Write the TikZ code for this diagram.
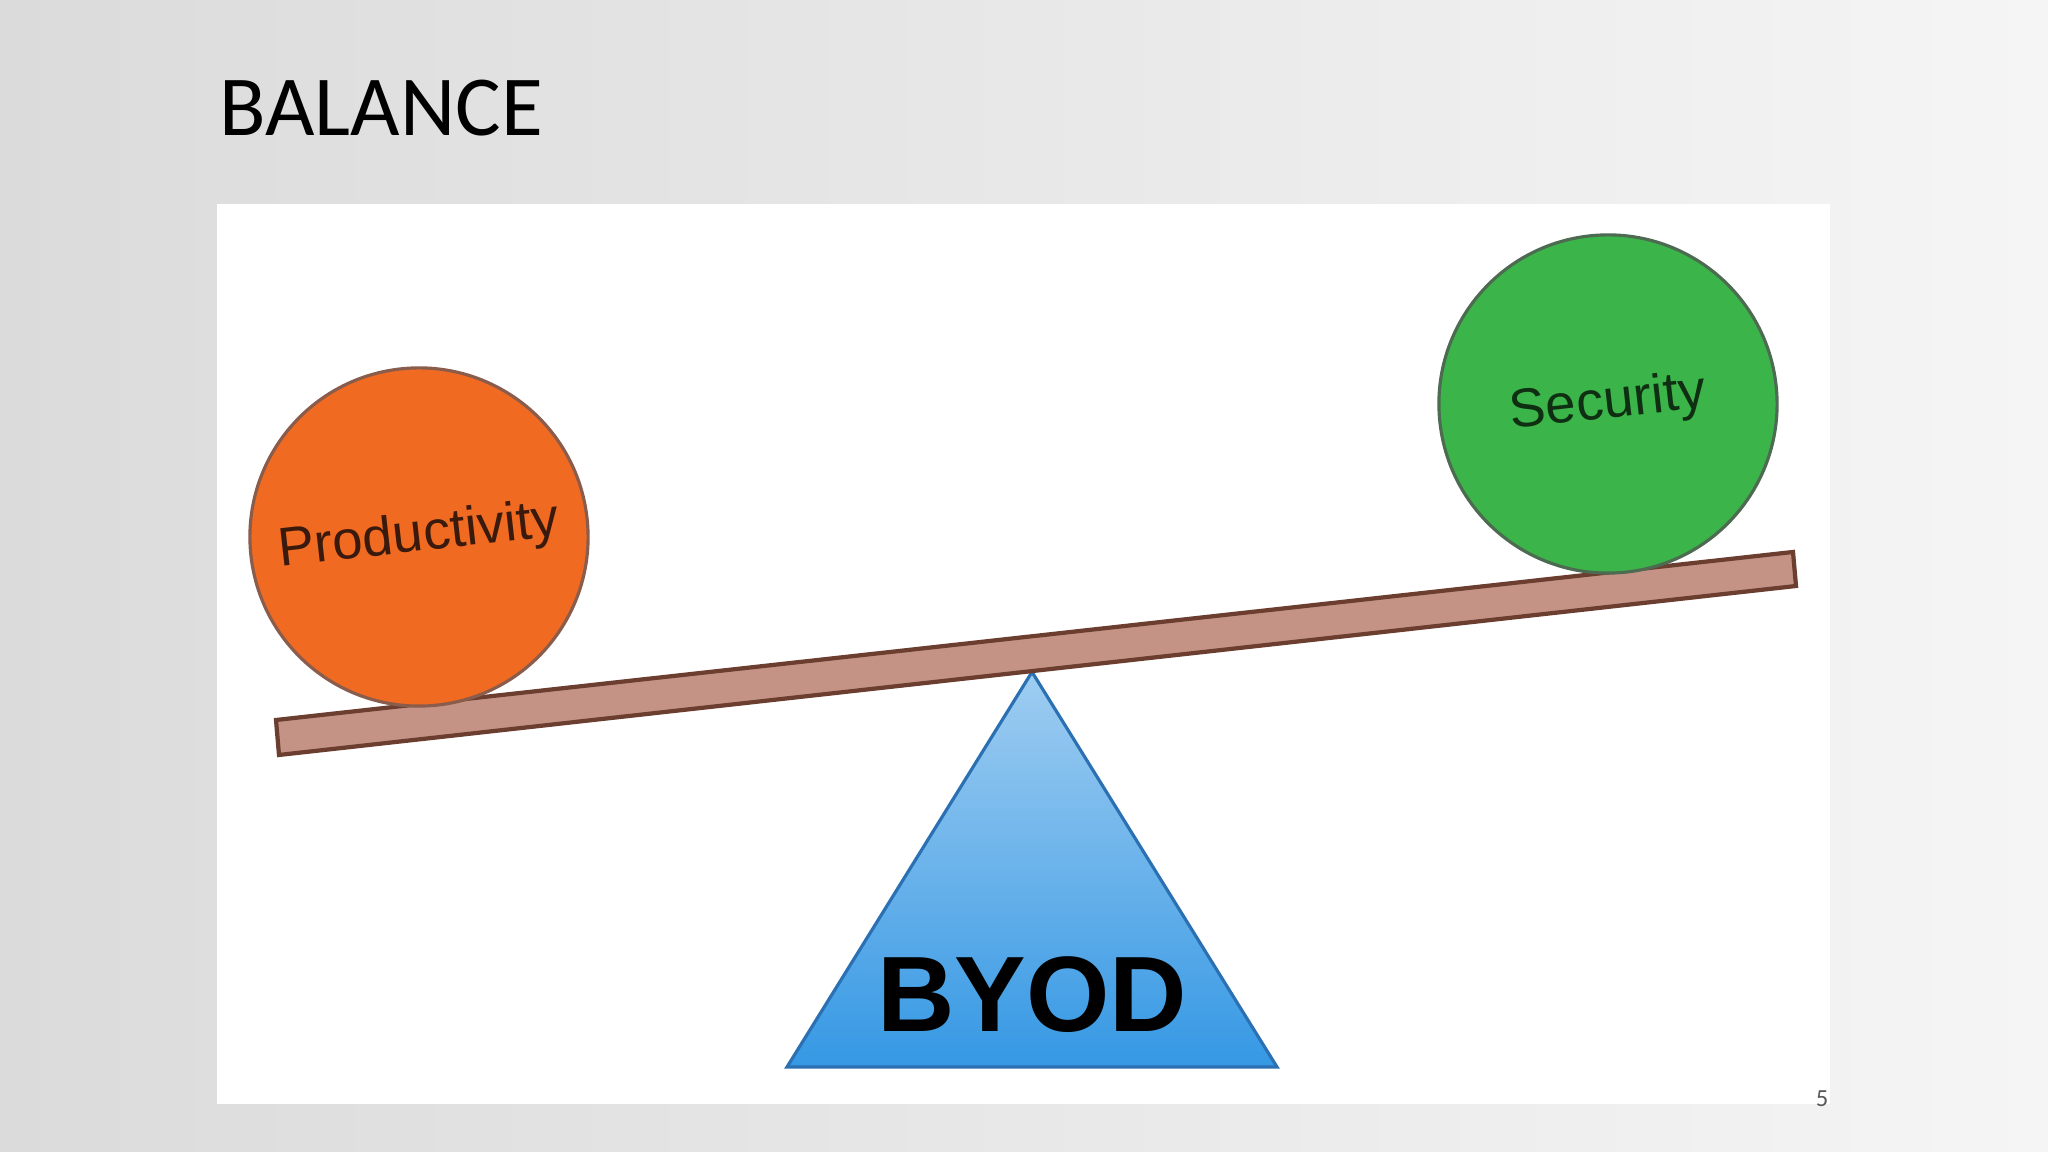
\documentclass[tikz,border=0pt]{standalone}
\usepackage{fontspec}
\setmainfont{Carlito}
\newfontfamily\arialfont{Liberation Sans}
\definecolor{bgleft}{HTML}{DBDBDB}
\definecolor{bgright}{HTML}{F5F5F5}
\definecolor{prodfill}{HTML}{F06A22}
\definecolor{prodline}{HTML}{8A5C4C}
\definecolor{prodtext}{HTML}{3A1A0C}
\definecolor{secfill}{HTML}{3BB54A}
\definecolor{secline}{HTML}{4D6B50}
\definecolor{sectext}{HTML}{0F2F12}
\definecolor{beamfill}{HTML}{C49385}
\definecolor{beamline}{HTML}{6B3E30}
\definecolor{fulcrumtop}{HTML}{9FCDF1}
\definecolor{fulcrumbot}{HTML}{3598E4}
\definecolor{fulcrumline}{HTML}{2A70B2}

\begin{document}
\begin{tikzpicture}[x=0.01cm, y=0.01cm,
  ball/.style={circle, minimum size=3.38cm, inner sep=0pt, line width=0.9pt,
    font=\arialfont\fontsize{15.5}{18}\selectfont, rotate=6.4}]
\useasboundingbox (0,0) rectangle (2048,1152);
\shade[left color=bgleft, right color=bgright] (0,0) rectangle (2048,1152);
\fill[white] (217,48) rectangle (1830,948);
\node[anchor=base west, inner sep=0pt, font=\fontsize{24.3}{28}\selectfont] (title) at (219,1016) {BALANCE};
% fulcrum
\shadedraw[top color=fulcrumtop, bottom color=fulcrumbot, draw=fulcrumline, line width=0.9pt] (1032,480) -- (787,85) -- (1277,85) -- cycle;
\node[anchor=base, inner sep=0pt, font=\arialfont\bfseries\fontsize{30.5}{34}\selectfont] (byod) at (1032,120) {BYOD};
% beam
\filldraw[fill=beamfill, draw=beamline, line width=1.2pt] (276,432) -- (1793,600) -- (1796,566) -- (279,397) -- cycle;
\node[ball, draw=prodline, fill=prodfill, text=prodtext] (prod) at (419,615) {Productivity};
\node[ball, draw=secline, fill=secfill, text=sectext] (sec) at (1608,748) {Security};
\node[inner sep=0pt, font=\fontsize{7}{8}\selectfont, text=black!65] (page) at (1822,53) {5};
\end{tikzpicture}
\end{document}
